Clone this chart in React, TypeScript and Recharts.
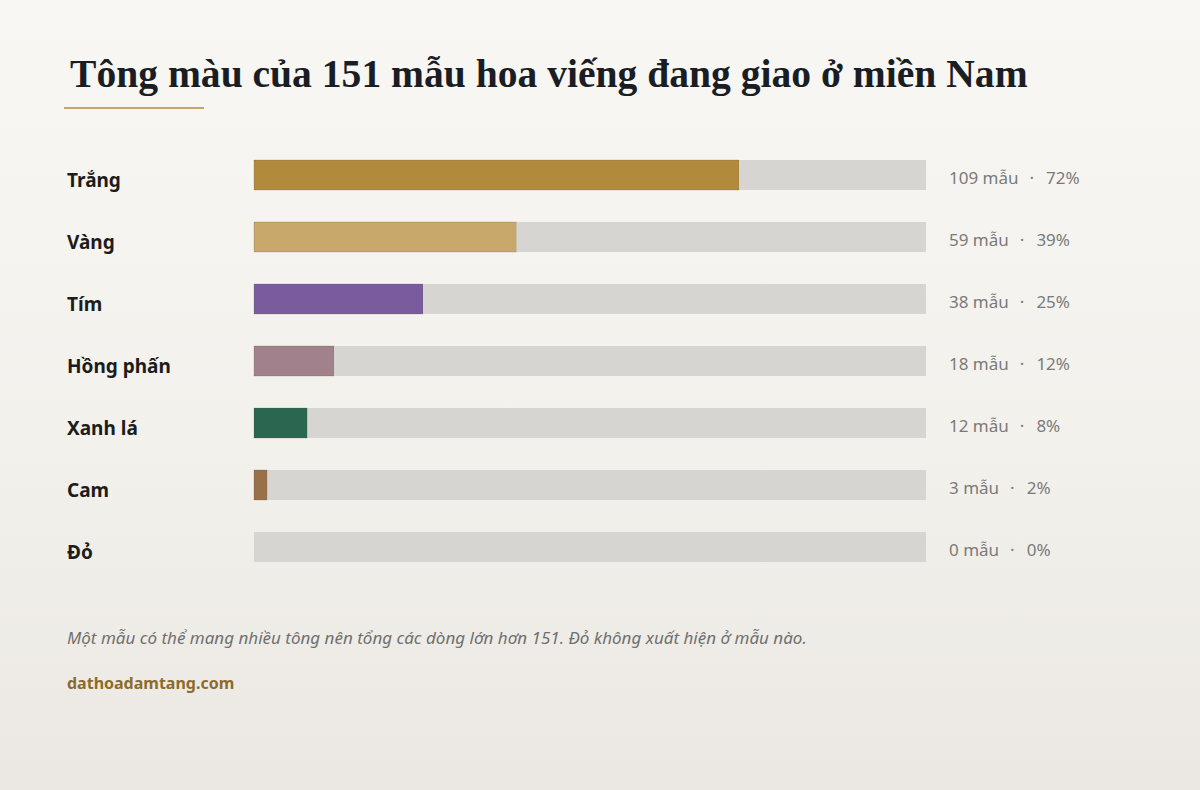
import { BarChart, Bar, XAxis, YAxis, Cell } from "recharts";

const TOTAL = 151;
const categories = ["Trắng", "Vàng", "Tím", "Hồng phấn", "Xanh lá", "Cam", "Đỏ"];
const counts = [109, 59, 38, 18, 12, 3, 0];
const percents = [72, 39, 25, 12, 8, 2, 0];
const colors = ["#b18a3e", "#c8a86b", "#7a5c9e", "#a1818b", "#2a6650", "#98714a", "#b53a3a"];

// the grey track is the part of 151 that each colour does not cover
const data = categories.map((name, i) => ({
  name,
  count: counts[i],
  rest: TOTAL - counts[i],
  pct: percents[i],
}));

const LeftTick = ({ y, payload }: any) => (
  <text
    x={67}
    y={y + 12}
    textAnchor="start"
    fontFamily="'Noto Sans', sans-serif"
    fontWeight={700}
    fontSize={19}
    fill="#1c1c1c"
  >
    {payload.value}
  </text>
);

const RightTick = ({ y, payload }: any) => {
  const row = data.find((d) => d.name === payload.value);
  if (!row) return null;
  return (
    <text
      x={949}
      y={y + 9}
      textAnchor="start"
      fontFamily="'Noto Sans', sans-serif"
      fontSize={17}
      fill="#7a7a7a"
    >
      <tspan>{`${row.count} mẫu`}</tspan>
      <tspan dx={11}>·</tspan>
      <tspan dx={12}>{`${row.pct}%`}</tspan>
    </text>
  );
};

export default function App() {
  return (
    <div
      style={{
        position: "absolute",
        left: 0,
        top: 0,
        width: 1200,
        height: 790,
        background: "linear-gradient(180deg, #f8f7f3 0%, #f3f1ec 55%, #ebe8e3 100%)",
        overflow: "hidden",
      }}
    >
      <svg width={1200} height={790} style={{ position: "absolute", left: 0, top: 0 }}>
        <text
          x={70}
          y={87}
          fontFamily="'Liberation Serif', 'Times New Roman', serif"
          fontWeight={700}
          fontSize={39.6}
          fill="#1a1d24"
        >
          Tông màu của 151 mẫu hoa viếng đang giao ở miền Nam
        </text>
        <rect x={64} y={107} width={140} height={2} fill="#c9a468" />
        <text
          x={67}
          y={644}
          fontFamily="'Noto Sans', sans-serif"
          fontStyle="italic"
          fontSize={17}
          fill="#707070"
        >
          Một mẫu có thể mang nhiều tông nên tổng các dòng lớn hơn 151. Đỏ không xuất hiện ở mẫu nào.
        </text>
        <text
          x={67}
          y={689}
          fontFamily="'Noto Sans', sans-serif"
          fontWeight={700}
          fontSize={16}
          fill="#8d6b2a"
        >
          dathoadamtang.com
        </text>
      </svg>
      <div style={{ position: "absolute", left: 0, top: 144 }}>
        <BarChart
          width={1200}
          height={434}
          data={data}
          layout="vertical"
          margin={{ top: 0, right: 0, bottom: 0, left: 0 }}
        >
          <XAxis type="number" domain={[0, TOTAL]} hide />
          <YAxis
            yAxisId="left"
            type="category"
            dataKey="name"
            width={254}
            axisLine={false}
            tickLine={false}
            tick={<LeftTick />}
          />
          <YAxis
            yAxisId="right"
            orientation="right"
            type="category"
            dataKey="name"
            width={274}
            axisLine={false}
            tickLine={false}
            tick={<RightTick />}
          />
          <Bar
            yAxisId="left"
            dataKey="count"
            stackId="row"
            barSize={30}
            isAnimationActive={false}
            stroke="rgba(90,80,60,0.22)"
            strokeWidth={1}
          >
            {data.map((d, i) => (
              <Cell key={d.name} fill={colors[i]} />
            ))}
          </Bar>
          <Bar
            yAxisId="left"
            dataKey="rest"
            stackId="row"
            barSize={30}
            fill="#d6d5d1"
            isAnimationActive={false}
          />
        </BarChart>
      </div>
    </div>
  );
}
